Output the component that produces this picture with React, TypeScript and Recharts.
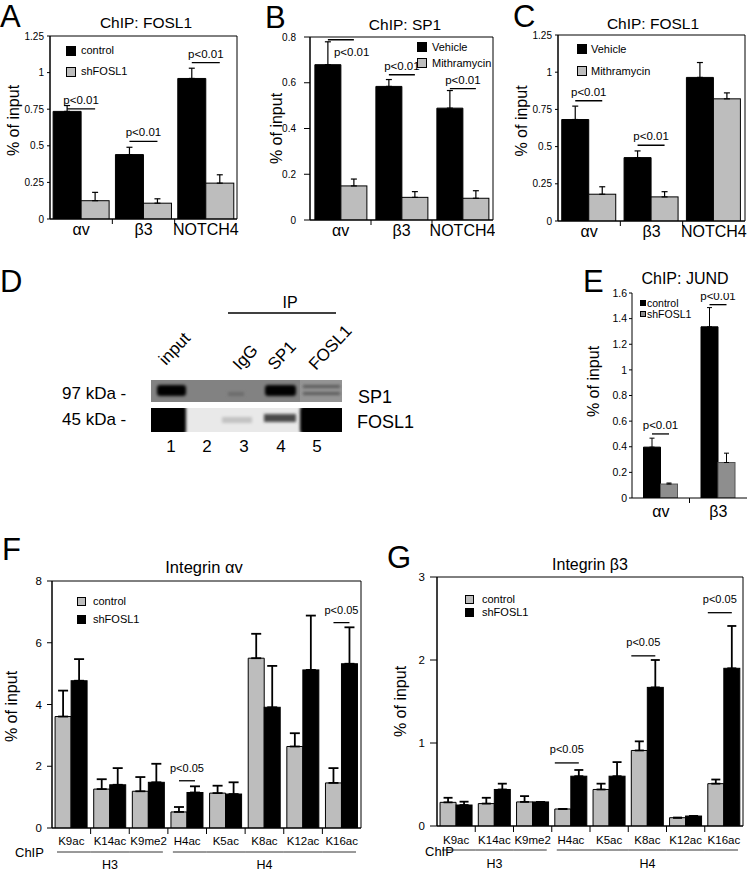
import React from 'react';
import { BarChart, Bar, XAxis, YAxis, ErrorBar, Legend, ReferenceArea } from 'recharts';

const FONT = '"Liberation Sans", Arial, Helvetica, sans-serif';
const GRAY = '#bdbdbd';
const DARK_GRAY = '#8e8e8e';

// shared categories
const geneCats = ['αv', 'β3', 'NOTCH4'];
const jundCats = ['αv', 'β3'];
const histoneCats = ['K9ac', 'K14ac', 'K9me2', 'H4ac', 'K5ac', 'K8ac', 'K12ac', 'K16ac'];
const histoneGroups = ['H3', 'H3', 'H3', 'H4', 'H4', 'H4', 'H4', 'H4'];
const histoneAxisTitle = 'ChIP';

// A - ChIP: FOSL1 (control / shFOSL1)
const aControl = [0.735, 0.44, 0.96];
const aControlErr = [0.04, 0.05, 0.07];
const aShFosl1 = [0.125, 0.108, 0.245];
const aShFosl1Err = [0.057, 0.03, 0.057];
const aSigLevel = [0.752, 0.53, 1.068];
const aSigText = ['p<0.01', 'p<0.01', 'p<0.01'];
const aTicks = [0, 0.25, 0.5, 0.75, 1, 1.25];

// B - ChIP: SP1 (Vehicle / Mithramycin)
const bVehicle = [0.679, 0.584, 0.489];
const bVehicleErr = [0.1, 0.03, 0.077];
const bMith = [0.149, 0.099, 0.095];
const bMithErr = [0.03, 0.025, 0.033];
const bSigLevel = [0.788, 0.635, 0.574];
const bSigText = ['p<0.01', 'p<0.01', 'p<0.01'];
const bTicks = [0, 0.2, 0.4, 0.6, 0.8];

// C - ChIP: FOSL1 (Vehicle / Mithramycin)
const cVehicle = [0.682, 0.426, 0.965];
const cVehicleErr = [0.09, 0.045, 0.1];
const cMith = [0.18, 0.162, 0.821];
const cMithErr = [0.05, 0.035, 0.04];
const cSigLevel = [0.808, 0.509, null];
const cSigText = ['p<0.01', 'p<0.01', ''];
const cTicks = [0, 0.25, 0.5, 0.75, 1, 1.25];

// E - ChIP: JUND
const eControl = [0.397, 1.336];
const eControlErr = [0.07, 0.15];
const eShFosl1 = [0.109, 0.277];
const eShFosl1Err = [0.008, 0.073];
const eSigLevel = [0.5, 1.509];
const eSigText = ['p<0.01', 'p<0.01'];
const eTicks = [0, 0.2, 0.4, 0.6, 0.8, 1, 1.2, 1.4, 1.6];

// F - Integrin αv
const fControl = [3.61, 1.26, 1.19, 0.52, 1.13, 5.5, 2.64, 1.46];
const fControlErr = [0.84, 0.32, 0.46, 0.16, 0.24, 0.79, 0.43, 0.48];
const fShFosl1 = [4.77, 1.4, 1.48, 1.15, 1.1, 3.91, 5.12, 5.32];
const fShFosl1Err = [0.7, 0.54, 0.6, 0.2, 0.38, 1.34, 1.76, 1.18];
const fSigLevel = [null, null, null, 1.53, null, null, null, 6.65];
const fSigText = ['', '', '', 'p<0.05', '', '', '', 'p<0.05'];
const fTicks = [0, 2, 4, 6, 8];

// G - Integrin β3
const gControl = [0.285, 0.27, 0.29, 0.205, 0.44, 0.91, 0.1, 0.51];
const gControlErr = [0.055, 0.07, 0.07, 0, 0.07, 0.11, 0, 0.05];
const gShFosl1 = [0.253, 0.44, 0.29, 0.6, 0.6, 1.67, 0.12, 1.9];
const gShFosl1Err = [0.04, 0.07, 0, 0.075, 0.17, 0.33, 0, 0.51];
const gSigLevel = [null, null, null, 0.76, null, 2.05, null, 2.57];
const gSigText = ['', '', '', 'p<0.05', '', 'p<0.05', '', 'p<0.05'];
const gTicks = [0, 1, 2, 3];

type SeriesDef = { name: string; values: number[]; errs: number[]; fill: string; stroke: string };

type PanelDef = {
  left: number; top: number; width: number; height: number;
  margin: { top: number; right: number; bottom: number; left: number };
  yWidth: number; xHeight: number;
  cats: string[]; groups?: string[];
  first: SeriesDef; second: SeriesDef;
  sigLevels: (number | null)[]; sigTexts: string[];
  domain: [number, number]; ticks: number[];
  frame: boolean;
  tickFont: number; tickSize: number; tickMargin: number;
  catFont: number; catDy: number; sepLen: number;
  yLabelDx: number; yLabelDy: number;
  legend: { left: number; top: number; row: number; box: number; gap: number; font: number };
  barCategoryGap: string;
  capWidth: number; errWidth: number;
  sigFont: number; sigGap: number; bracketFrom: 'center' | 'edge';
  sigBelowRight?: number[];
  groupDy?: number; groupLabelDy?: number; chipDx?: number; chipDy?: number; groupPad?: number;
};

const rowsFor = (p: PanelDef) =>
  p.cats.map((name, i) => ({
    name,
    first: p.first.values[i],
    firstErr: [0, p.first.errs[i]],
    second: p.second.values[i],
    secondErr: [0, p.second.errs[i]],
    sig: p.sigLevels[i],
    sigText: p.sigTexts[i],
  }));

// second bar of each pair also draws the significance bracket above the pair
const makeSecondShape = (p: PanelDef) => (props: any) => {
  const { x, y, width, height, payload } = props;
  const i = p.cats.indexOf(payload.name);
  const v = payload.second;
  const lvl = payload.sig;
  let note = null;
  if (lvl != null && v > 0) {
    const ly = y + height - (lvl / v) * height;
    const x1 = p.bracketFrom === 'edge' ? x - width : x - width / 2;
    const x2 = x + width / 2;
    const side = p.sigBelowRight?.includes(i);
    note = (
      <g>
        <line x1={x1} x2={x2} y1={ly} y2={ly} stroke="#000" strokeWidth={1.3} />
        <text
          x={side ? x1 + 6 : (x1 + x2) / 2}
          y={side ? ly + 16 : ly - p.sigGap}
          textAnchor={side ? 'start' : 'middle'}
          fontSize={p.sigFont}
          fill="#000"
        >
          {payload.sigText}
        </text>
      </g>
    );
  }
  return (
    <g>
      <rect x={x} y={y} width={width} height={height} fill={p.second.fill} stroke={p.second.stroke} strokeWidth={1} />
      {note}
    </g>
  );
};

const CatTick = (props: any) => {
  const { x, y, payload, index, p } = props;
  const n = p.cats.length;
  const plotW = p.width - p.margin.left - p.margin.right - p.yWidth;
  const half = payload?.offset ?? plotW / n / 2;
  const out: any[] = [];
  if (index < n - 1) {
    out.push(<line key="sep" x1={x + half} x2={x + half} y1={y} y2={y + p.sepLen} stroke="#000" />);
  }
  out.push(
    <text key="lab" x={x} y={y + p.catDy} textAnchor="middle" fontSize={p.catFont} fill="#000">
      {payload.value}
    </text>
  );
  if (p.groups) {
    const g = p.groups[index];
    const pad = p.groupPad ?? 5;
    const isFirst = index === 0 || p.groups[index - 1] !== g;
    const isLast = index === n - 1 || p.groups[index + 1] !== g;
    const xl = x - half + (isFirst ? pad : 0);
    const xr = x + half - (isLast ? pad : 0);
    out.push(<line key="grp" x1={xl} x2={xr} y1={y + p.groupDy} y2={y + p.groupDy} stroke="#000" strokeWidth={0.8} />);
    if (isFirst) {
      let j = index;
      while (j + 1 < n && p.groups[j + 1] === g) j++;
      out.push(
        <text key="gl" x={x + (j - index) * half} y={y + p.groupLabelDy} textAnchor="middle" fontSize={12.5} fill="#000">
          {g}
        </text>
      );
    }
    if (index === 0) {
      out.push(
        <text key="chip" x={x - half + p.chipDx} y={y + p.chipDy} fontSize={13} fill="#000">
          {histoneAxisTitle}
        </text>
      );
    }
  }
  return <g>{out}</g>;
};

const YLabel = (props: any) => {
  const { viewBox, p } = props;
  if (!viewBox) return null;
  const cx = viewBox.x + p.yLabelDx;
  const cy = viewBox.y + viewBox.height / 2 + p.yLabelDy;
  return (
    <text transform={`translate(${cx + 5.5},${cy}) rotate(-90)`} textAnchor="middle" fontSize={16} fill="#000">
      % of input
    </text>
  );
};

const seriesOrder = ['first', 'second'];

const legendContent = (p: PanelDef) => (props: any) => {
  const items = [...(props.payload || [])].sort(
    (a: any, b: any) => seriesOrder.indexOf(a.dataKey) - seriesOrder.indexOf(b.dataKey)
  );
  const l = p.legend;
  return (
    <div style={{ fontSize: l.font, color: '#000' }}>
      {items.map((it: any) => (
        <div key={it.value} style={{ display: 'flex', alignItems: 'center', height: l.row, lineHeight: `${l.row}px` }}>
          <span
            style={{
              display: 'inline-block',
              width: l.box,
              height: l.box,
              background: it.color,
              border: '1px solid #000',
              boxSizing: 'border-box',
              marginRight: l.gap,
            }}
          />
          <span style={{ whiteSpace: 'nowrap' }}>{it.value}</span>
        </div>
      ))}
    </div>
  );
};

function BarPanel({ p }: { p: PanelDef }) {
  const data = rowsFor(p);
  return (
    <div style={{ position: 'absolute', left: p.left, top: p.top }}>
      <BarChart width={p.width} height={p.height} data={data} margin={p.margin} barGap={0} barCategoryGap={p.barCategoryGap}>
        <XAxis
          dataKey="name"
          height={p.xHeight}
          interval={0}
          tickLine={false}
          tickSize={0}
          tickMargin={0}
          axisLine={{ stroke: '#000' }}
          tick={(t: any) => <CatTick {...t} p={p} />}
        />
        <YAxis
          type="number"
          width={p.yWidth}
          domain={p.domain}
          ticks={p.ticks}
          interval={0}
          allowDataOverflow
          tickSize={p.tickSize}
          tickMargin={p.tickMargin}
          tick={{ fontSize: p.tickFont, fill: '#000' }}
          tickLine={{ stroke: '#000' }}
          axisLine={{ stroke: '#000' }}
          label={<YLabel p={p} />}
        />
        {p.frame && <ReferenceArea y1={p.domain[0]} y2={p.domain[1]} fill="none" fillOpacity={0} stroke="#000" strokeWidth={1} />}
        <Bar dataKey="first" name={p.first.name} fill={p.first.fill} stroke={p.first.stroke} strokeWidth={1} isAnimationActive={false}>
          <ErrorBar dataKey="firstErr" width={p.capWidth} strokeWidth={p.errWidth} stroke="#000" />
        </Bar>
        <Bar
          dataKey="second"
          name={p.second.name}
          fill={p.second.fill}
          stroke={p.second.stroke}
          isAnimationActive={false}
          shape={makeSecondShape(p)}
        >
          <ErrorBar dataKey="secondErr" width={p.capWidth} strokeWidth={p.errWidth} stroke="#000" />
        </Bar>
        <Legend
          layout="vertical"
          align="center"
          verticalAlign="middle"
          wrapperStyle={{ left: p.legend.left, top: p.legend.top, width: 120, height: 'auto' }}
          content={legendContent(p)}
        />
      </BarChart>
    </div>
  );
}

const black = (name: string, values: number[], errs: number[]): SeriesDef => ({ name, values, errs, fill: '#000', stroke: '#000' });
const gray = (name: string, values: number[], errs: number[], fill = GRAY, stroke = '#000'): SeriesDef => ({ name, values, errs, fill, stroke });

const panelA: PanelDef = {
  left: 0, top: 0, width: 245, height: 250,
  margin: { top: 36, right: 8, bottom: 6, left: 0 }, yWidth: 50, xHeight: 25,
  cats: geneCats,
  first: black('control', aControl, aControlErr),
  second: gray('shFOSL1', aShFosl1, aShFosl1Err),
  sigLevels: aSigLevel, sigTexts: aSigText,
  domain: [0, 1.25], ticks: aTicks, frame: true,
  tickFont: 10, tickSize: 3, tickMargin: 3, catFont: 16, catDy: 16, sepLen: 5,
  yLabelDx: 13, yLabelDy: -7,
  legend: { left: 66, top: 40, row: 21, box: 10, gap: 5, font: 11 },
  barCategoryGap: '5%', capWidth: 3, errWidth: 1.2,
  sigFont: 11.5, sigGap: 5, bracketFrom: 'center',
};

const panelB: PanelDef = {
  left: 245, top: 0, width: 250, height: 250,
  margin: { top: 37, right: 2, bottom: 5, left: 0 }, yWidth: 65, xHeight: 25,
  cats: geneCats,
  first: black('Vehicle', bVehicle, bVehicleErr),
  second: gray('Mithramycin', bMith, bMithErr),
  sigLevels: bSigLevel, sigTexts: bSigText,
  domain: [0, 0.8], ticks: bTicks, frame: true,
  tickFont: 10, tickSize: 6, tickMargin: 8, catFont: 16, catDy: 16, sepLen: 5,
  yLabelDx: 31, yLabelDy: 0,
  legend: { left: 172, top: 39, row: 16, box: 10, gap: 5, font: 11 },
  barCategoryGap: '8%', capWidth: 3, errWidth: 1.2,
  sigFont: 11.5, sigGap: 5, bracketFrom: 'center', sigBelowRight: [0],
};

const panelC: PanelDef = {
  left: 495, top: 0, width: 255, height: 250,
  margin: { top: 35, right: 5, bottom: 4, left: 0 }, yWidth: 63, xHeight: 25,
  cats: geneCats,
  first: black('Vehicle', cVehicle, cVehicleErr),
  second: gray('Mithramycin', cMith, cMithErr),
  sigLevels: cSigLevel, sigTexts: cSigText,
  domain: [0, 1.25], ticks: cTicks, frame: true,
  tickFont: 10, tickSize: 3, tickMargin: 3, catFont: 16, catDy: 16, sepLen: 5,
  yLabelDx: 26, yLabelDy: -7,
  legend: { left: 82, top: 38, row: 22, box: 10, gap: 4, font: 11 },
  barCategoryGap: '6%', capWidth: 3, errWidth: 1.2,
  sigFont: 11.5, sigGap: 5, bracketFrom: 'center',
};

const panelE: PanelDef = {
  left: 575, top: 270, width: 175, height: 260,
  margin: { top: 23, right: 3, bottom: 7, left: 0 }, yWidth: 57, xHeight: 25,
  cats: jundCats,
  first: black('control', eControl, eControlErr),
  second: gray('shFOSL1', eShFosl1, eShFosl1Err, DARK_GRAY, '#555'),
  sigLevels: eSigLevel, sigTexts: eSigText,
  domain: [0, 1.6], ticks: eTicks, frame: false,
  tickFont: 10.5, tickSize: 3, tickMargin: 2, catFont: 16, catDy: 19, sepLen: 5,
  yLabelDx: 18, yLabelDy: -14,
  legend: { left: 65, top: 28, row: 10.5, box: 6, gap: 1, font: 10.5 },
  barCategoryGap: '20%', capWidth: 2.5, errWidth: 1,
  sigFont: 11.5, sigGap: 5, bracketFrom: 'center',
};

const panelF: PanelDef = {
  left: 0, top: 520, width: 370, height: 351,
  margin: { top: 61, right: 9, bottom: 0, left: 0 }, yWidth: 52, xHeight: 43,
  cats: histoneCats, groups: histoneGroups,
  first: gray('control', fControl, fControlErr),
  second: black('shFOSL1', fShFosl1, fShFosl1Err),
  sigLevels: fSigLevel, sigTexts: fSigText,
  domain: [0, 8], ticks: fTicks, frame: true,
  tickFont: 11.5, tickSize: 5, tickMargin: 5, catFont: 11.5, catDy: 17, sepLen: 6,
  yLabelDx: 11, yLabelDy: 2,
  legend: { left: 77, top: 72, row: 18, box: 9, gap: 7, font: 11 },
  barCategoryGap: '8%', capWidth: 5, errWidth: 1.8,
  sigFont: 11, sigGap: 9, bracketFrom: 'center',
  groupDy: 24, groupLabelDy: 41, chipDx: -37, chipDy: 29, groupPad: 5,
};

const panelG: PanelDef = {
  left: 370, top: 520, width: 380, height: 351,
  margin: { top: 57, right: 7, bottom: 0, left: 0 }, yWidth: 67, xHeight: 45,
  cats: histoneCats, groups: histoneGroups,
  first: gray('control', gControl, gControlErr),
  second: black('shFOSL1', gShFosl1, gShFosl1Err),
  sigLevels: gSigLevel, sigTexts: gSigText,
  domain: [0, 3], ticks: gTicks, frame: true,
  tickFont: 11.5, tickSize: 7, tickMargin: 5, catFont: 11.5, catDy: 18, sepLen: 6,
  yLabelDx: 30, yLabelDy: 0,
  legend: { left: 95, top: 72.5, row: 13, box: 9, gap: 8, font: 11 },
  barCategoryGap: '8%', capWidth: 4.5, errWidth: 1.8,
  sigFont: 11, sigGap: 10, bracketFrom: 'edge',
  groupDy: 24, groupLabelDy: 42, chipDx: -12, chipDy: 30, groupPad: 5,
};

function Overlay() {
  return (
    <svg width={750} height={871} style={{ position: 'absolute', left: 0, top: 0 }}>
      <defs>
        <filter id="blot" x="-20%" y="-60%" width="140%" height="220%">
          <feGaussianBlur stdDeviation="1.6" />
        </filter>
        <clipPath id="stripTop"><rect x={151} y={380} width={191} height={22} /></clipPath>
        <clipPath id="stripBottom"><rect x={151} y={408} width={191} height={24} /></clipPath>
      </defs>
      <g fontSize={31} fill="#000">
        <text x={0} y={27}>A</text>
        <text x={265} y={28}>B</text>
        <text x={513} y={27}>C</text>
        <text x={0} y={292}>D</text>
        <text x={583} y={292}>E</text>
        <text x={2} y={560}>F</text>
        <text x={387} y={568}>G</text>
      </g>
      <g fill="#000" textAnchor="middle">
        <text x={146} y={28} fontSize={15.5}>ChIP: FOSL1</text>
        <text x={405} y={30} fontSize={15.5}>ChIP: SP1</text>
        <text x={653} y={29} fontSize={15.5}>ChIP: FOSL1</text>
        <text x={685} y={284} fontSize={16}>ChIP: JUND</text>
        <text x={204} y={573} fontSize={16.5}>Integrin αv</text>
        <text x={590} y={570} fontSize={16}>Integrin β3</text>
      </g>
      {/* D: co-IP western blot */}
      <text x={290} y={308} fontSize={16} textAnchor="middle">IP</text>
      <line x1={228} x2={336} y1={313} y2={313} stroke="#000" strokeWidth={1.3} />
      <g fontSize={17} fill="#000">
        <text transform="translate(166,366) rotate(-47)">input</text>
        <text transform="translate(240,371) rotate(-47)">IgG</text>
        <text transform="translate(275,371) rotate(-47)">SP1</text>
        <text transform="translate(316,371) rotate(-47)">FOSL1</text>
        <text x={62} y={399}>97 kDa -</text>
        <text x={62} y={425}>45 kDa -</text>
        <text x={358} y={403} fontSize={18}>SP1</text>
        <text x={357} y={428} fontSize={18}>FOSL1</text>
      </g>
      <g fontSize={17} fill="#000" textAnchor="middle">
        <text x={171} y={452}>1</text>
        <text x={207} y={452}>2</text>
        <text x={244} y={452}>3</text>
        <text x={281} y={452}>4</text>
        <text x={317} y={452}>5</text>
      </g>
      <rect x={151} y={380} width={191} height={22} fill="#828282" />
      <rect x={300} y={380} width={42} height={22} fill="#949494" />
      <g clipPath="url(#stripTop)">
        <g filter="url(#blot)">
          <rect x={157} y={385} width={29} height={11} rx={3} fill="#000" />
          <rect x={265} y={385} width={31} height={11} rx={3} fill="#000" />
          <rect x={228} y={392} width={16} height={4} fill="#6c6c6c" />
          <rect x={303} y={385} width={37} height={3} fill="#5a5a5a" />
          <rect x={303} y={392} width={37} height={3} fill="#5a5a5a" />
        </g>
      </g>
      <rect x={151} y={408} width={191} height={24} fill="#e9e9e9" />
      <g clipPath="url(#stripBottom)">
        <g filter="url(#blot)">
          <rect x={147} y={405} width={39} height={30} rx={4} fill="#000" />
          <rect x={222} y={417} width={30} height={6} fill="#c2c2c2" />
          <rect x={264} y={414} width={32} height={8} fill="#4a4a4a" />
          <rect x={300} y={405} width={45} height={30} rx={5} fill="#000" />
        </g>
      </g>
    </svg>
  );
}

export default function App() {
  return (
    <div
      style={{
        position: 'absolute',
        left: 0,
        top: 0,
        width: 750,
        height: 871,
        background: '#fff',
        fontFamily: FONT,
        overflow: 'hidden',
      }}
    >
      <Overlay />
      <BarPanel p={panelA} />
      <BarPanel p={panelB} />
      <BarPanel p={panelC} />
      <BarPanel p={panelE} />
      <BarPanel p={panelF} />
      <BarPanel p={panelG} />
    </div>
  );
}
